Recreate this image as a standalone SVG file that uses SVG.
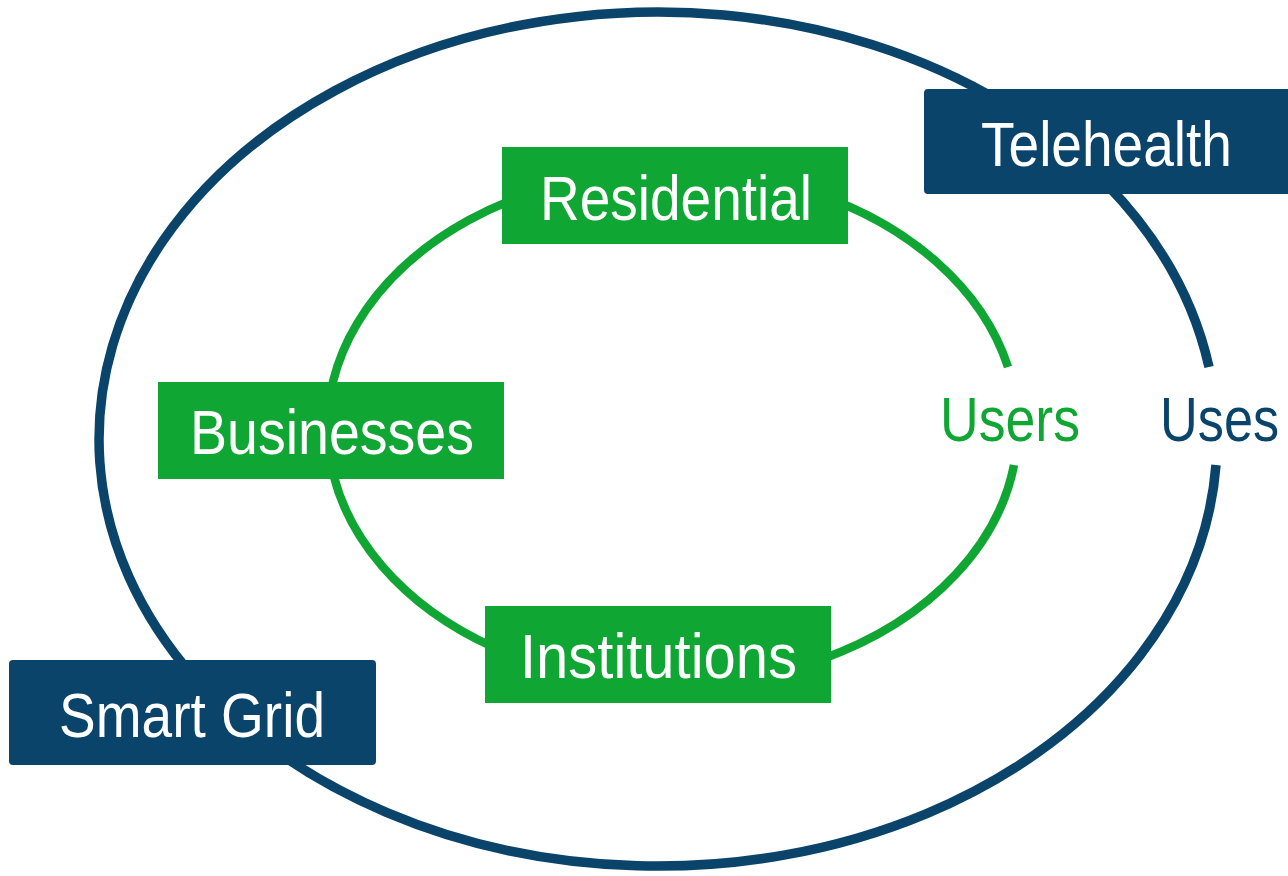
<svg xmlns="http://www.w3.org/2000/svg" width="1288" height="876" viewBox="0 0 1288 876">
<style>
.blue{fill:#0b446b}
.green{fill:#10a634}
.ring{fill:none;stroke-linecap:butt}
.lbl{font-family:"Liberation Sans",Arial,sans-serif;font-size:63px}
.w{fill:#ffffff}
</style>
<rect width="1288" height="876" fill="#ffffff"/>
<g id="connectors">
<path class="ring" stroke="#0b446b" stroke-width="9.5" d="M 1209 367 A 559 427 0 1 0 1216 465"/>
<path class="ring" stroke="#10a634" stroke-width="8.5" d="M 1008 367 A 345 257 0 1 0 1014 465"/>
</g>
<g id="uses">
<text class="lbl blue" transform="translate(1160 441) scale(0.83 1)" x="0" y="0">Uses</text>
</g>
<g id="users">
<text class="lbl green" x="940" y="441" textLength="140" lengthAdjust="spacingAndGlyphs">Users</text>
</g>
<g id="telehealth">
<rect class="blue" x="924" y="89" width="370" height="105" rx="4"/>
<text class="lbl w" x="981" y="166" textLength="251" lengthAdjust="spacingAndGlyphs">Telehealth</text>
</g>
<g id="smart-grid">
<rect class="blue" x="9" y="660" width="367" height="105" rx="4"/>
<text class="lbl w" x="59" y="737" textLength="266" lengthAdjust="spacingAndGlyphs">Smart Grid</text>
</g>
<g id="residential">
<rect class="green" x="502" y="147" width="346" height="97"/>
<text class="lbl w" x="540" y="220" textLength="272" lengthAdjust="spacingAndGlyphs">Residential</text>
</g>
<g id="businesses">
<rect class="green" x="158" y="382" width="346" height="97"/>
<text class="lbl w" x="190" y="454" textLength="284" lengthAdjust="spacingAndGlyphs">Businesses</text>
</g>
<g id="institutions">
<rect class="green" x="485" y="606" width="346" height="97"/>
<text class="lbl w" x="520" y="678" textLength="277" lengthAdjust="spacingAndGlyphs">Institutions</text>
</g>
</svg>
